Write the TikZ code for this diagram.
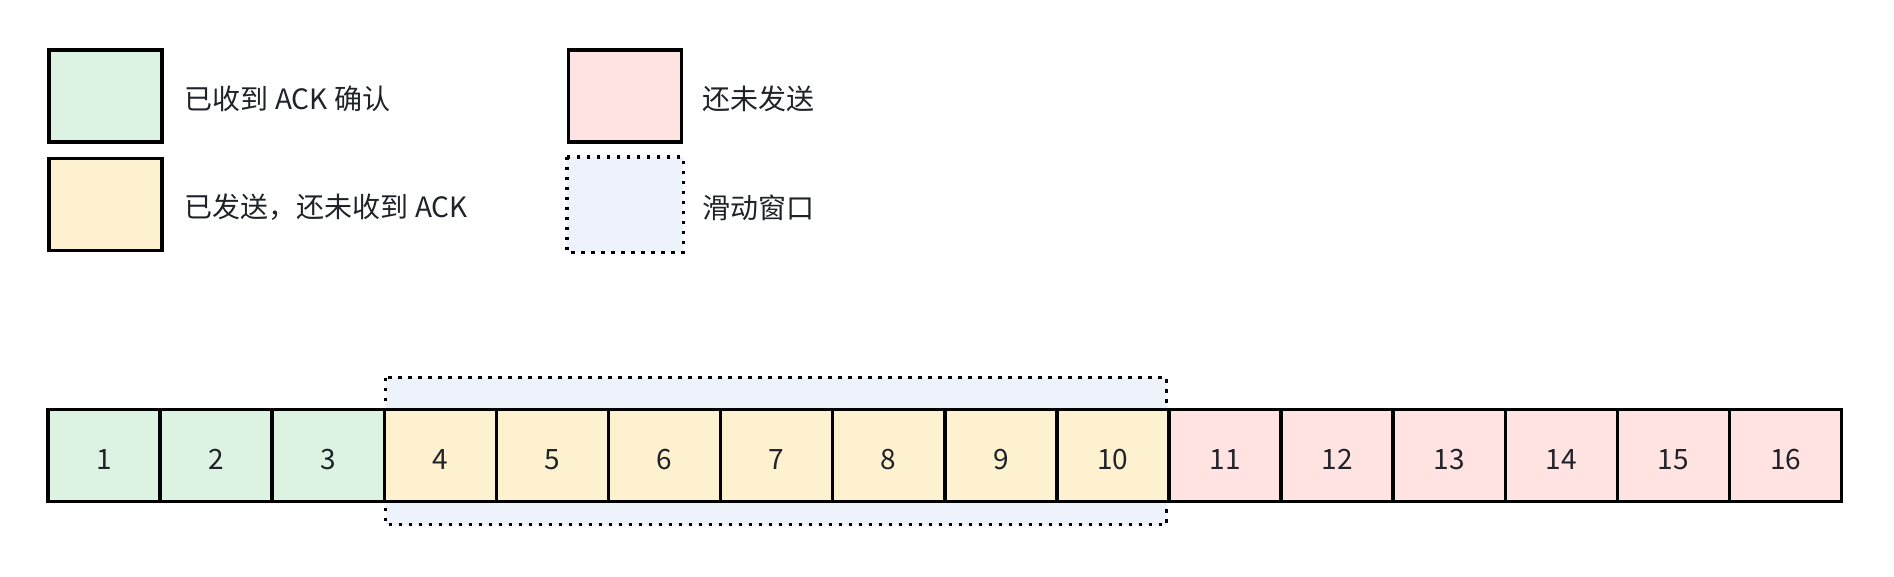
\documentclass[tikz,border=0pt]{standalone}
\usepackage{fontspec}
\setmainfont{Noto Sans CJK SC}
\usetikzlibrary{positioning}
\definecolor{ackgreen}{HTML}{DCF3E3}
\definecolor{sentyellow}{HTML}{FEF1CF}
\definecolor{unsentpink}{HTML}{FFE2E2}
\definecolor{winblue}{HTML}{EEF2FB}
\definecolor{txtgray}{HTML}{1F2329}
\tikzset{
  cellbox/.style={draw=black,line width=3.4pt,minimum width=112pt,minimum height=92pt,
    inner sep=0pt,text=txtgray,text height=27.5pt,text depth=0pt},
  legendbox/.style={cellbox,minimum width=113pt},
  winbox/.style={draw=black,fill=winblue,line width=3.4pt,dash pattern=on 3.5pt off 6.5pt},
  legendtext/.style={inner sep=0pt,anchor=west,text=txtgray,yshift=-3pt}
}
\begin{document}
\begin{tikzpicture}[x=1pt,y=-1pt]\fontsize{28}{33}\selectfont
\useasboundingbox[fill=white] (0,0) rectangle (1894,576);
% legend
\node[legendbox,fill=ackgreen] (legack) at (105.5,96) {};
\node[legendtext,right=21pt of legack] (legacktxt) {已收到 ACK 确认};
\node[legendbox,fill=sentyellow] (legsent) at (105.5,204.5) {};
\node[legendtext,right=21pt of legsent] (legsenttxt) {已发送，还未收到 ACK};
\node[legendbox,fill=unsentpink] (legunsent) at (625,96) {};
\node[legendtext,right=19pt of legunsent] (legunsenttxt) {还未发送};
\node[legendbox,draw=none,fill=winblue] (legwin) at (625,204.5) {};
\draw[winbox] (legwin.north west) rectangle (legwin.south east);
\node[legendtext,right=19pt of legwin] (legwintxt) {滑动窗口};
% sliding window behind the cells
\draw[winbox] (385.5,377.5) rectangle (1166.5,524.5);
% sequence of segments
\foreach \i in {1,...,3}
  \node[cellbox,fill=ackgreen] (c\i) at ({48+112.1*(\i-0.5)},455.5) {\i};
\foreach \i in {4,...,10}
  \node[cellbox,fill=sentyellow] (c\i) at ({48+112.1*(\i-0.5)},455.5) {\i};
\foreach \i in {11,...,16}
  \node[cellbox,fill=unsentpink] (c\i) at ({48+112.1*(\i-0.5)},455.5) {\i};
\end{tikzpicture}
\end{document}
